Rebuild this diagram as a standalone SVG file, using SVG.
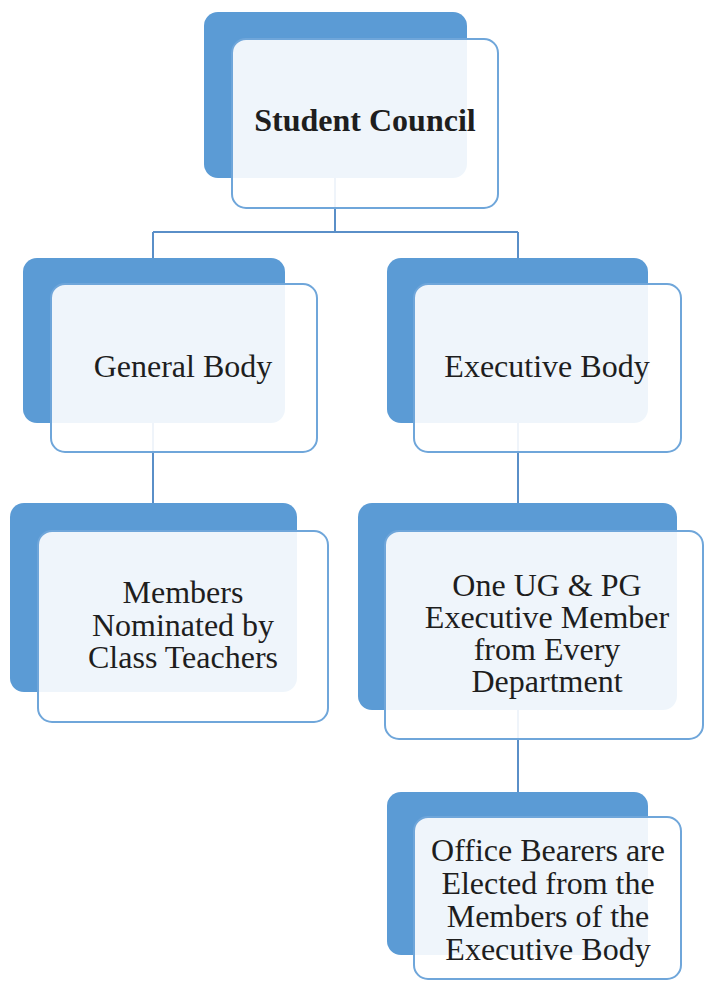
<svg xmlns="http://www.w3.org/2000/svg" width="704" height="981" viewBox="0 0 704 981">
<style>
.back{fill:#5B9BD5;}
.front{fill:#ffffff;fill-opacity:0.9;stroke:#6FA6DA;stroke-width:2;}
.conn{stroke:#5A8FC8;stroke-width:2;fill:none;}
.t{font-family:"Liberation Serif","Times New Roman",serif;font-size:32px;fill:#1e1e1e;text-anchor:middle;}
.b{font-weight:bold;}
</style>
<rect width="704" height="981" fill="#ffffff"/>
<g id="connectors">
<path class="conn" d="M335,178 V232 M153,232 H518 M153,232 V258 M518,232 V258"/>
<path class="conn" d="M153,423 V503"/>
<path class="conn" d="M518,423 V503"/>
<path class="conn" d="M518,710 V792"/>
</g>
<g id="student-council">
<rect class="back" x="204" y="12" width="263" height="166" rx="14"/>
<rect class="front" x="232" y="39" width="266" height="169" rx="14"/>
<text class="t b" x="365" y="131">Student Council</text>
</g>
<g id="general-body">
<rect class="back" x="23" y="258" width="262" height="165" rx="14"/>
<rect class="front" x="51" y="284" width="266" height="168" rx="14"/>
<text class="t" x="183" y="377">General Body</text>
</g>
<g id="executive-body">
<rect class="back" x="387" y="258" width="261" height="165" rx="14"/>
<rect class="front" x="414" y="284" width="267" height="168" rx="14"/>
<text class="t" x="547" y="377">Executive Body</text>
</g>
<g id="members-nominated">
<rect class="back" x="10" y="503" width="287" height="189" rx="14"/>
<rect class="front" x="38" y="531" width="290" height="191" rx="14"/>
<text class="t" x="183" y="603">Members</text>
<text class="t" x="183" y="636">Nominated by</text>
<text class="t" x="183" y="668">Class Teachers</text>
</g>
<g id="executive-member">
<rect class="back" x="358" y="503" width="319" height="207" rx="14"/>
<rect class="front" x="385" y="531" width="318" height="208" rx="14"/>
<text class="t" x="547" y="596">One UG &amp; PG</text>
<text class="t" x="547" y="628">Executive Member</text>
<text class="t" x="547" y="660">from Every</text>
<text class="t" x="547" y="692">Department</text>
</g>
<g id="office-bearers">
<rect class="back" x="387" y="792" width="261" height="163" rx="14"/>
<rect class="front" x="414" y="817" width="267" height="162" rx="14"/>
<text class="t" x="548" y="861">Office Bearers are</text>
<text class="t" x="548" y="894">Elected from the</text>
<text class="t" x="548" y="927">Members of the</text>
<text class="t" x="548" y="960">Executive Body</text>
</g>
</svg>
